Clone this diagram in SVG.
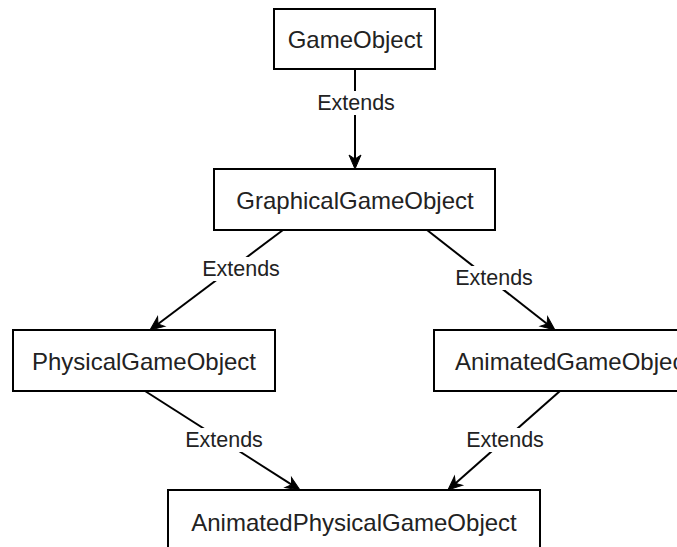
<svg xmlns="http://www.w3.org/2000/svg" width="677" height="547" viewBox="0 0 677 547">
  <defs>
    <marker id="arrow" markerUnits="userSpaceOnUse" markerWidth="14" markerHeight="12" refX="11" refY="6" orient="auto" overflow="visible">
      <path d="M0,0 L14,6 L0,12 L4,6 Z" fill="#000" stroke="#000" stroke-width="1"/>
    </marker>
    <style>
      .box { fill: #fff; stroke: #000; stroke-width: 2; }
      .lbl { font-family: "Liberation Sans", Arial, Helvetica, sans-serif; font-size: 24px; fill: #222; text-anchor: middle; dominant-baseline: central; }
      .edge { fill: none; stroke: #000; stroke-width: 2; marker-end: url(#arrow); }
      .elbl { font-family: "Liberation Sans", Arial, Helvetica, sans-serif; font-size: 21.5px; fill: #222; text-anchor: middle; dominant-baseline: central; }
      .ebg { fill: #fff; }
    </style>
  </defs>
  <rect width="677" height="547" fill="#fff"/>

  <g id="connectors">
    <path class="edge" d="M355,69 L355,166"/>
    <path class="edge" d="M283,230 L152.4,328.2"/>
    <path class="edge" d="M427,230 L552.6,328.2"/>
    <path class="edge" d="M145,391 L297.5,488.4"/>
    <path class="edge" d="M560,391 L450.2,488"/>
    <rect class="ebg" x="316" y="91" width="80" height="24"/>
    <text class="elbl" x="356" y="103">Extends</text>
    <rect class="ebg" x="201" y="257" width="80" height="24"/>
    <text class="elbl" x="241" y="269">Extends</text>
    <rect class="ebg" x="454" y="266" width="80" height="24"/>
    <text class="elbl" x="494" y="278">Extends</text>
    <rect class="ebg" x="184" y="428" width="80" height="24"/>
    <text class="elbl" x="224" y="440">Extends</text>
    <rect class="ebg" x="465" y="428" width="80" height="24"/>
    <text class="elbl" x="505" y="440">Extends</text>
  </g>

  <g id="GameObject">
    <rect class="box" x="274" y="9" width="161" height="60"/>
    <text class="lbl" x="355" y="39">GameObject</text>
  </g>
  <g id="GraphicalGameObject">
    <rect class="box" x="214" y="169" width="281" height="61"/>
    <text class="lbl" x="355" y="200">GraphicalGameObject</text>
  </g>
  <g id="PhysicalGameObject">
    <rect class="box" x="13" y="330" width="262" height="61"/>
    <text class="lbl" x="144" y="361">PhysicalGameObject</text>
  </g>
  <g id="AnimatedGameObject">
    <rect class="box" x="434" y="330" width="278" height="61"/>
    <text class="lbl" x="573" y="361">AnimatedGameObject</text>
  </g>
  <g id="AnimatedPhysicalGameObject">
    <rect class="box" x="168" y="490" width="372" height="70"/>
    <text class="lbl" x="354" y="522">AnimatedPhysicalGameObject</text>
  </g>
</svg>
